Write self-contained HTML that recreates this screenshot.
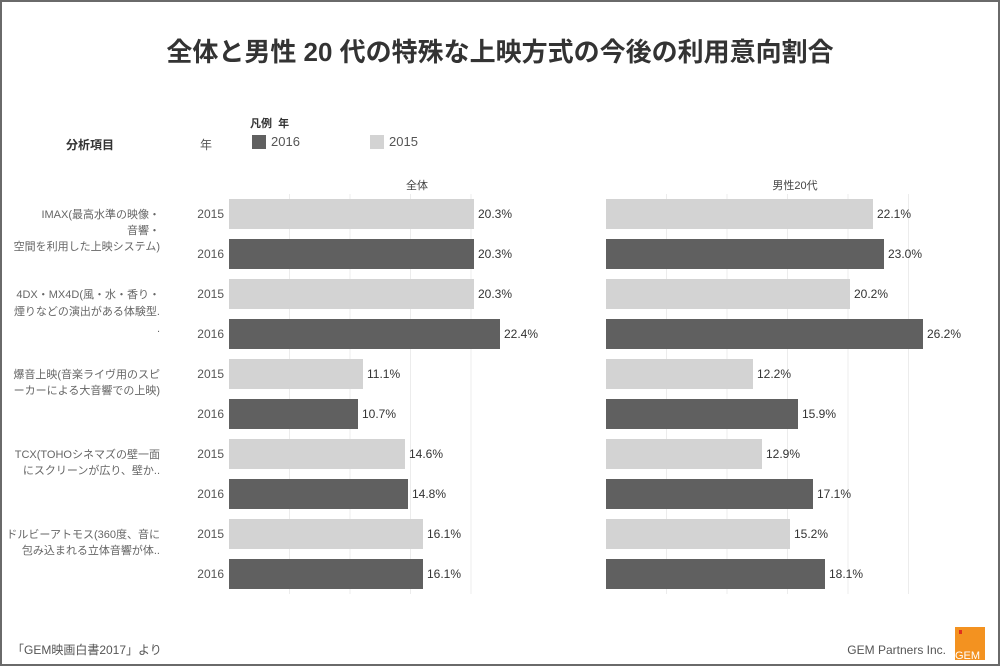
<!DOCTYPE html>
<html><head><meta charset="utf-8"><style>
body{margin:0;width:1000px;height:666px;overflow:hidden;background:#fff;font-family:"Liberation Sans","Noto Sans CJK JP",sans-serif}
.frame{position:absolute;left:0;top:0;width:996px;height:662px;border:2px solid #6a6a6a}
.t{position:absolute;white-space:nowrap}
</style></head><body>
<div class="frame"></div>
<div class="t" style="left:0;width:1000px;top:32px;text-align:center;font-size:26px;font-weight:bold;color:#333">全体と男性 20 代の特殊な上映方式の今後の利用意向割合</div>
<div class="t" style="left:66px;top:136px;font-size:12px;font-weight:bold;color:#333">分析項目</div>
<div class="t" style="left:200px;top:136px;font-size:12px;color:#555">年</div>
<div class="t" style="left:250px;top:115px;font-size:11px;font-weight:bold;color:#333">凡例&nbsp; 年</div>
<div style="position:absolute;left:252px;top:135px;width:14px;height:14px;background:#606060"></div>
<div class="t" style="left:271px;top:134px;font-size:13px;color:#555">2016</div>
<div style="position:absolute;left:370px;top:135px;width:14px;height:14px;background:#d3d3d3"></div>
<div class="t" style="left:389px;top:134px;font-size:13px;color:#555">2015</div>
<svg width="1000" height="666" style="position:absolute;left:0;top:0" font-family="Liberation Sans, Noto Sans CJK JP, sans-serif">
<g stroke="#ececec" stroke-width="1">
<line x1="289.5" y1="194" x2="289.5" y2="594"/><line x1="350" y1="194" x2="350" y2="594"/><line x1="410.5" y1="194" x2="410.5" y2="594"/><line x1="471" y1="194" x2="471" y2="594"/>
<line x1="666.5" y1="194" x2="666.5" y2="594"/><line x1="727" y1="194" x2="727" y2="594"/><line x1="787.5" y1="194" x2="787.5" y2="594"/><line x1="848" y1="194" x2="848" y2="594"/><line x1="908.5" y1="194" x2="908.5" y2="594"/>
</g>
<text x="417" y="189" font-size="11" fill="#444" text-anchor="middle">全体</text>
<text x="795" y="189" font-size="11" fill="#444" text-anchor="middle">男性20代</text>
<g font-size="12" fill="#555" text-anchor="end">
<text x="224" y="218">2015</text><text x="224" y="258">2016</text><text x="224" y="298">2015</text><text x="224" y="338">2016</text><text x="224" y="378">2015</text><text x="224" y="418">2016</text><text x="224" y="458">2015</text><text x="224" y="498">2016</text><text x="224" y="538">2015</text><text x="224" y="578">2016</text>
</g>
<g font-size="11" fill="#666" text-anchor="end">
<text x="160" y="218">IMAX(最高水準の映像・</text><text x="160" y="234">音響・</text><text x="160" y="250">空間を利用した上映システム)</text>
<text x="160" y="298">4DX・MX4D(風・水・香り・</text><text x="160" y="315">煙りなどの演出がある体験型.</text><text x="160" y="332">.</text>
<text x="160" y="378">爆音上映(音楽ライヴ用のスピ</text><text x="160" y="394">ーカーによる大音響での上映)</text>
<text x="160" y="458">TCX(TOHOシネマズの壁一面</text><text x="160" y="474">にスクリーンが広り、壁か..</text>
<text x="160" y="538">ドルビーアトモス(360度、音に</text><text x="160" y="554">包み込まれる立体音響が体..</text>
</g>
<g>
<rect x="229" y="199" width="245" height="30" fill="#d3d3d3"/>
<rect x="229" y="239" width="245" height="30" fill="#606060"/>
<rect x="229" y="279" width="245" height="30" fill="#d3d3d3"/>
<rect x="229" y="319" width="271" height="30" fill="#606060"/>
<rect x="229" y="359" width="134" height="30" fill="#d3d3d3"/>
<rect x="229" y="399" width="129" height="30" fill="#606060"/>
<rect x="229" y="439" width="176" height="30" fill="#d3d3d3"/>
<rect x="229" y="479" width="179" height="30" fill="#606060"/>
<rect x="229" y="519" width="194" height="30" fill="#d3d3d3"/>
<rect x="229" y="559" width="194" height="30" fill="#606060"/>
<rect x="606" y="199" width="267" height="30" fill="#d3d3d3"/>
<rect x="606" y="239" width="278" height="30" fill="#606060"/>
<rect x="606" y="279" width="244" height="30" fill="#d3d3d3"/>
<rect x="606" y="319" width="317" height="30" fill="#606060"/>
<rect x="606" y="359" width="147" height="30" fill="#d3d3d3"/>
<rect x="606" y="399" width="192" height="30" fill="#606060"/>
<rect x="606" y="439" width="156" height="30" fill="#d3d3d3"/>
<rect x="606" y="479" width="207" height="30" fill="#606060"/>
<rect x="606" y="519" width="184" height="30" fill="#d3d3d3"/>
<rect x="606" y="559" width="219" height="30" fill="#606060"/>
</g>
<g font-size="12" fill="#333">
<text x="478" y="218">20.3%</text><text x="478" y="258">20.3%</text><text x="478" y="298">20.3%</text><text x="504" y="338">22.4%</text><text x="367" y="378">11.1%</text><text x="362" y="418">10.7%</text><text x="409" y="458">14.6%</text><text x="412" y="498">14.8%</text><text x="427" y="538">16.1%</text><text x="427" y="578">16.1%</text>
<text x="877" y="218">22.1%</text><text x="888" y="258">23.0%</text><text x="854" y="298">20.2%</text><text x="927" y="338">26.2%</text><text x="757" y="378">12.2%</text><text x="802" y="418">15.9%</text><text x="766" y="458">12.9%</text><text x="817" y="498">17.1%</text><text x="794" y="538">15.2%</text><text x="829" y="578">18.1%</text>
</g>
<text x="12" y="654" font-size="12" fill="#555">「GEM映画白書2017」より</text>
<text x="946" y="654" font-size="12" fill="#555" text-anchor="end">GEM Partners Inc.</text>
<rect x="955" y="627" width="30" height="33" fill="#f39220"/>
<rect x="959" y="630" width="3" height="4" fill="#e0301e"/>
<text x="955" y="659" font-size="11" fill="#fff">GEM</text>
</svg>
</body></html>
